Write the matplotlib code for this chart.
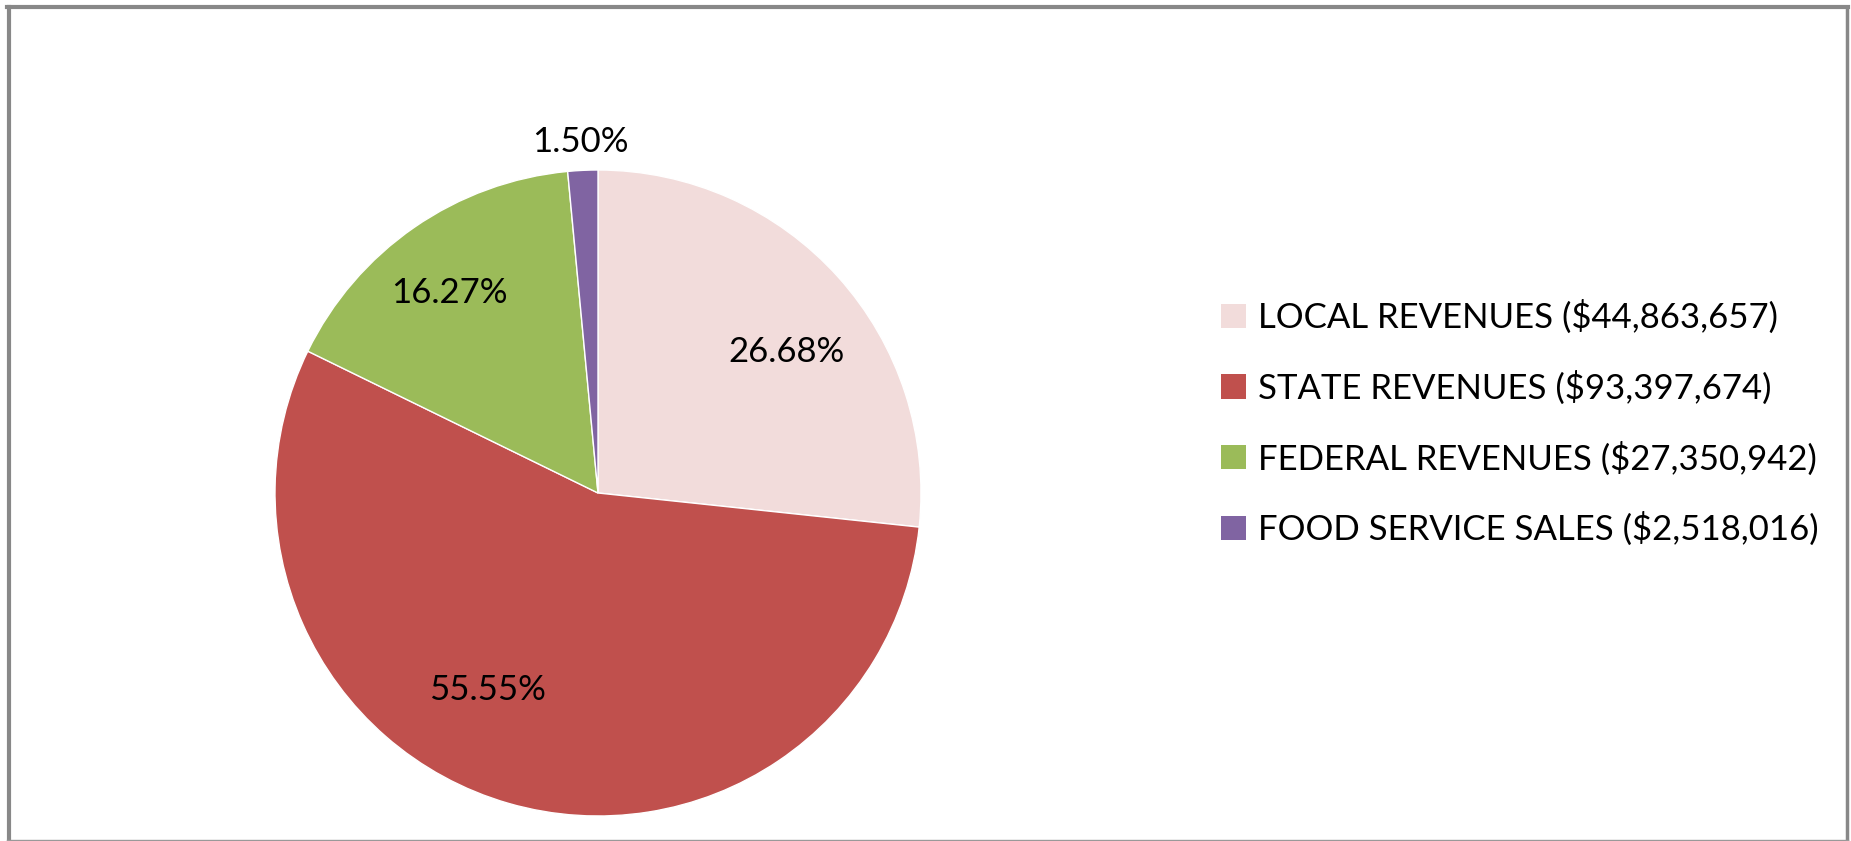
import numpy as np
import matplotlib.pyplot as plt
from matplotlib.lines import Line2D
from matplotlib.patches import Patch

plt.rcParams['font.family'] = ['Lato', 'DejaVu Sans']

categories = ["LOCAL REVENUES", "STATE REVENUES", "FEDERAL REVENUES", "FOOD SERVICE SALES"]
amounts = [44863657, 93397674, 27350942, 2518016]
colors = ["#F2DCDB", "#C0504D", "#9BBB59", "#8064A2"]

# where the percent labels sit, in pie-radius units (Excel "best fit" placement)
label_pos = [(0.584, 0.438), (-0.343, -0.609), (-0.460, 0.620), (-0.055, 1.088)]

W, H = 1851, 841
fig = plt.figure(figsize=(W / 100, H / 100), dpi=100)

# pie: centre (598, 493) px, radius 323 px
cx, cy, r = 598, 493, 323
ax = fig.add_axes([(cx - r) / W, (H - cy - r) / H, 2 * r / W, 2 * r / H])
wedges, _ = ax.pie(amounts, colors=colors, startangle=90, counterclock=False,
                   wedgeprops=dict(edgecolor="white", linewidth=1))
ax.set_xlim(-1, 1)
ax.set_ylim(-1, 1)
ax.set_aspect("equal")
ax.axis("off")

total = sum(amounts)
for val, (lx, ly) in zip(amounts, label_pos):
    ax.text(lx, ly, f"{val / total * 100:.2f}%",
            ha="center", va="center", fontsize=25, color="black")

handles = [Patch(facecolor=c, edgecolor="none") for c in colors]
labels = [f"{c} (${v:,})" for c, v in zip(categories, amounts)]
fig.legend(handles, labels, loc="center left", bbox_to_anchor=(1190 / W, 0.497),
           frameon=False, fontsize=25, handlelength=0.7, handleheight=0.7,
           handletextpad=0.35, labelspacing=1.05)

# outer frame
gray = "#888888"
fig.add_artist(Line2D([9 / W, 9 / W], [0, 1 - 7 / H], transform=fig.transFigure, color=gray, lw=3))
fig.add_artist(Line2D([7 / W, 1848 / W], [1 - 7 / H, 1 - 7 / H], transform=fig.transFigure, color=gray, lw=3))
fig.add_artist(Line2D([1847 / W, 1847 / W], [0, 1 - 7 / H], transform=fig.transFigure, color=gray, lw=2.5))
fig.add_artist(Line2D([7 / W, 1848 / W], [0.7 / H, 0.7 / H], transform=fig.transFigure, color="#999999", lw=1))

fig.savefig("out.png", dpi=100)
